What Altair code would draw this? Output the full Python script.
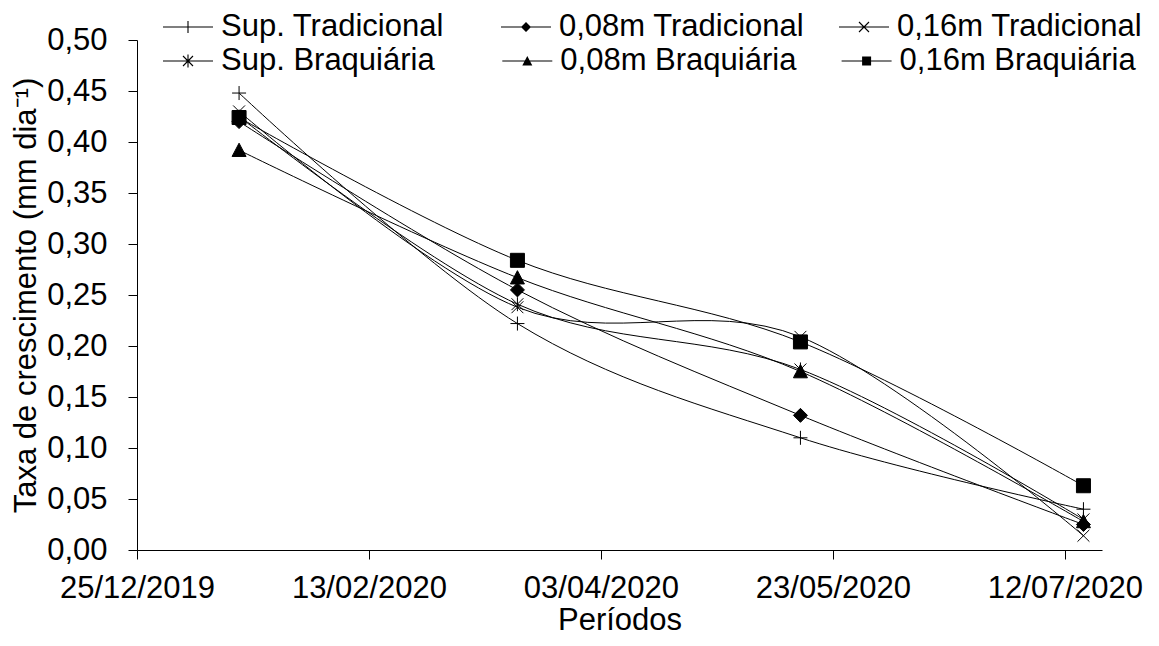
import altair as alt
import pandas as pd
import math

# ---------------- data ----------------
series = ["Sup. Tradicional", "0,08m Tradicional", "0,16m Tradicional",
          "Sup. Braquiária", "0,08m Braquiária", "0,16m Braquiária"]
dates = ["2020-01-16", "2020-03-16", "2020-05-16", "2020-07-16"]

sup_trad = [0.448, 0.222, 0.110, 0.040]
m008_trad = [0.420, 0.255, 0.132, 0.025]
m016_trad = [0.430, 0.238, 0.209, 0.014]
sup_braq = [0.425, 0.241, 0.177, 0.030]
m008_braq = [0.392, 0.267, 0.175, 0.028]
m016_braq = [0.424, 0.284, 0.204, 0.063]

values = [sup_trad, m008_trad, m016_trad, sup_braq, m008_braq, m016_braq]

y_ticks = [0.0, 0.05, 0.10, 0.15, 0.20, 0.25, 0.30, 0.35, 0.40, 0.45, 0.50]
x_tick_dates = [(2019, 12, 25), (2020, 2, 13), (2020, 4, 3), (2020, 5, 23), (2020, 7, 12)]

legend_row1 = ["Sup. Tradicional", "0,08m Tradicional", "0,16m Tradicional"]
legend_row2 = ["Sup. Braquiária", "0,08m Braquiária", "0,16m Braquiária"]

rows = []
for s, vals in zip(series, values):
    for d, v in zip(dates, vals):
        rows.append({"serie": s, "leg": s, "data": d, "taxa": v})
df = pd.DataFrame(rows)

# ---------------- marker shapes (plot: stroked paths in [-1,1]) ----------------
def pts(coords, s):
    return ",".join(f"{c * s:.3f}" for c in coords)

def marker(kind, s):
    if kind == "plus":
        return f"M{pts([-1,0],s)}L{pts([1,0],s)}M{pts([0,-1],s)}L{pts([0,1],s)}"
    if kind == "diamond":
        return f"M{pts([0,-1],s)}L{pts([1,0],s)}L{pts([0,1],s)}L{pts([-1,0],s)}Z"
    if kind == "x":
        return f"M{pts([-0.85,-0.85],s)}L{pts([0.85,0.85],s)}M{pts([-0.85,0.85],s)}L{pts([0.85,-0.85],s)}"
    if kind == "asterisk":
        return (f"M{pts([-0.85,-0.85],s)}L{pts([0.85,0.85],s)}M{pts([-0.85,0.85],s)}"
                f"L{pts([0.85,-0.85],s)}M{pts([0,-1],s)}L{pts([0,1],s)}")
    if kind == "triangle":
        return f"M{pts([0,-1],s)}L{pts([1,0.9],s)}L{pts([-1,0.9],s)}Z"
    if kind == "square":
        return f"M{pts([-1,-1],s)}L{pts([1,-1],s)}L{pts([1,1],s)}L{pts([-1,1],s)}Z"

# ---------------- legend shapes (filled only: line + small marker) ----------------
H = 0.022  # half thickness of a 1px stroke inside a 50px symbol

def poly(points):
    area = sum(points[i][0] * points[(i + 1) % len(points)][1] - points[(i + 1) % len(points)][0] * points[i][1]
               for i in range(len(points)))
    if area < 0:
        points = points[::-1]
    return "M" + "L".join(f"{x:.3f},{y:.3f}" for x, y in points) + "Z"

def bar(x1, y1, x2, y2, h=H):
    dx, dy = x2 - x1, y2 - y1
    n = math.hypot(dx, dy)
    nx, ny = -dy / n * h, dx / n * h
    return poly([(x1 + nx, y1 + ny), (x2 + nx, y2 + ny), (x2 - nx, y2 - ny), (x1 - nx, y1 - ny)])

def legend_symbol(kind):
    p = bar(-1, 0, 1, 0)
    if kind == "plus":
        p += bar(0, -0.24, 0, 0.24)
    elif kind == "diamond":
        p += poly([(0, -0.2), (0.2, 0), (0, 0.2), (-0.2, 0)])
    elif kind == "x":
        a = 0.2
        p += bar(-a, -a, a, a) + bar(-a, a, a, -a)
    elif kind == "asterisk":
        a = 0.2
        p += bar(-a, -a, a, a) + bar(-a, a, a, -a) + bar(0, -0.26, 0, 0.26)
    elif kind == "triangle":
        p += poly([(0, -0.2), (0.2, 0.18), (-0.2, 0.18)])
    elif kind == "square":
        p += poly([(-0.18, -0.18), (0.18, -0.18), (0.18, 0.18), (-0.18, 0.18)])
    return p

kinds = {"Sup. Tradicional": "plus", "0,08m Tradicional": "diamond",
         "0,16m Tradicional": "x", "Sup. Braquiária": "asterisk",
         "0,08m Braquiária": "triangle", "0,16m Braquiária": "square"}
plot_paths = [marker(kinds[s], 1.0) for s in series]

FONT = "Liberation Sans"
FS = 31

x_enc = alt.X(
    "data:T",
    scale=alt.Scale(type="utc",
                    domain=[alt.DateTime(year=2019, month=12, date=25, utc=True),
                            alt.DateTime(year=2020, month=7, date=20, utc=True)]),
    axis=alt.Axis(title="Períodos",
                  values=[alt.DateTime(year=y, month=m, date=d, utc=True) for y, m, d in x_tick_dates],
                  labelExpr="utcFormat(datum.value, '%d/%m/%Y')",
                  labelFlush=False, labelOverlap=False,
                  labelPadding=14, titlePadding=2),
)
y_enc = alt.Y(
    "taxa:Q",
    scale=alt.Scale(domain=[0, 0.5], nice=False, zero=True),
    axis=alt.Axis(title="Taxa de crescimento (mm dia⁻¹)",
                  values=y_ticks,
                  labelExpr="replace(format(datum.value, '.2f'), '.', ',')",
                  labelPadding=21, titlePadding=4),
)

lines = alt.Chart(df).mark_line(
    interpolate="cardinal", color="black", strokeWidth=1
).encode(x=x_enc, y=y_enc, detail="serie:N", order=alt.Order("data:T"))

points = alt.Chart(df).mark_point(
    filled=True, fill="black", stroke="black", strokeWidth=1, size=196, opacity=1
).encode(
    x=x_enc, y=y_enc,
    shape=alt.Shape("serie:N", scale=alt.Scale(domain=series, range=plot_paths), legend=None),
)

def legend_layer(names, legend_y, col_pad):
    return alt.Chart(df).transform_filter("false").mark_point(
        filled=True, fill="black", strokeWidth=0
    ).encode(
        x=x_enc, y=y_enc,
        shape=alt.Shape(
            "leg:N",
            scale=alt.Scale(domain=names, range=[legend_symbol(kinds[n]) for n in names]),
            legend=alt.Legend(
                title=None, orient="none", legendX=26, legendY=legend_y,
                direction="horizontal", columns=3, gridAlign="all", columnPadding=col_pad,
                symbolSize=2500, symbolStrokeWidth=0,
                symbolFillColor="black", symbolOpacity=1,
                labelFont=FONT, labelFontSize=FS, labelColor="black",
                labelLimit=600, labelOffset=8, padding=0,
            ),
        ),
    )

leg1 = legend_layer(legend_row1, -38, 34)
leg2 = legend_layer(legend_row2, -4, 44.3)

chart = alt.layer(lines, points, leg1, leg2).resolve_scale(
    shape="independent"
).resolve_legend(shape="independent").properties(
    width=965, height=510,
    autosize=alt.AutoSizeParams(type="none"),
    padding={"left": 129, "top": 32, "right": 48, "bottom": 88},
).configure(font=FONT).configure_view(stroke=None).configure_axis(
    grid=False, domainColor="black", tickColor="black", labelColor="black",
    titleColor="black", labelFont=FONT, titleFont=FONT,
    labelFontSize=FS, titleFontSize=FS, titleFontWeight="normal",
    tickSize=9, tickWidth=1, domainWidth=1,
)

chart.save("out.html", embed_options={"renderer": "svg", "actions": False})
